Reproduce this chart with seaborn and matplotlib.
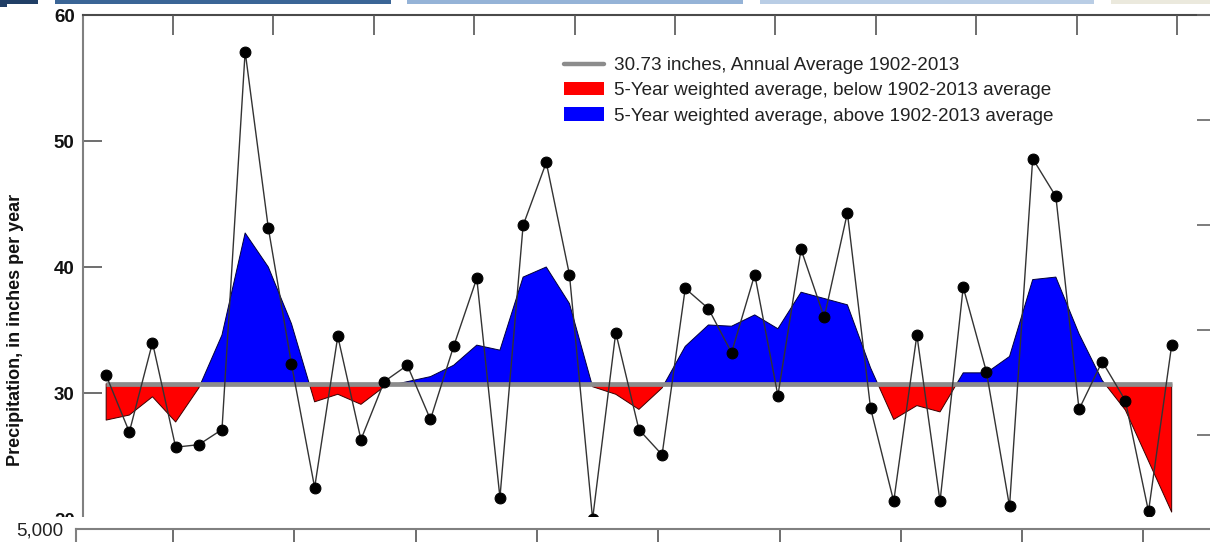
import numpy as np
import pandas as pd
import matplotlib
matplotlib.use('Agg')
import matplotlib.pyplot as plt
import seaborn as sns
from matplotlib.lines import Line2D
from matplotlib.patches import Patch, Rectangle

# ---------------- data ----------------
years = list(range(1967, 2014))
precip = [31.4, 26.9, 34.0, 25.7, 25.9, 27.1, 57.1, 43.1, 32.3, 22.5,
          34.5, 26.3, 30.9, 32.2, 27.9, 33.7, 39.1, 21.7, 43.3, 48.3,
          39.4, 20.0, 34.8, 27.1, 25.1, 38.3, 36.7, 33.2, 39.4, 29.8,
          41.4, 36.0, 44.3, 28.8, 21.4, 34.6, 21.4, 38.4, 31.7, 21.0,
          48.6, 45.6, 28.7, 32.5, 29.4, 20.6, 33.8]
weighted = [27.85, 28.25, 29.7, 27.7, 30.4, 34.6, 42.7, 40.0, 35.5, 29.3,
            29.9, 29.1, 30.5, 30.9, 31.3, 32.2, 33.8, 33.4, 39.2, 40.0,
            37.1, 30.5, 29.9, 28.7, 30.4, 33.7, 35.4, 35.3, 36.2, 35.1,
            38.0, 37.5, 37.0, 32.0, 27.9, 29.0, 28.5, 31.6, 31.6, 32.9,
            39.0, 39.2, 34.7, 31.0, 28.65, 24.6, 20.55]
avg_value = 30.73
y_ticks = [10, 20, 30, 40, 50, 60]
legend_labels = ["30.73 inches, Annual Average 1902-2013",
                 "5-Year weighted average, below 1902-2013 average",
                 "5-Year weighted average, above 1902-2013 average"]
y_label = "Precipitation, in inches per year"
lower_tick_label = "5,000"

df = pd.DataFrame({"year": years, "precip": precip, "weighted": weighted})

# ---------------- style ----------------
sns.set_style("white")
plt.rcParams['font.family'] = ['Liberation Sans', 'DejaVu Sans']

W, H = 1210, 542
fig = plt.figure(figsize=(W / 100, H / 100), dpi=100)
fig.patch.set_facecolor('white')


def fx(px):
    return px / W


def fy(py):
    return 1 - py / H


# main axes (extends beyond the figure, as in the cropped screenshot)
ax = fig.add_axes([fx(83), fy(645), (1218 - 83) / W, (645 - 15) / H])
ax.set_xlim(1966, 2015)
ax.set_ylim(10, 60)

w = np.array(weighted)
ax.fill_between(df["year"], df["weighted"], avg_value, where=w <= avg_value,
                interpolate=True, facecolor='#ff0000', edgecolor='#3a0000',
                linewidth=0.7, zorder=2)
ax.fill_between(df["year"], df["weighted"], avg_value, where=w >= avg_value,
                interpolate=True, facecolor='#0000ff', edgecolor='#00003a',
                linewidth=0.7, zorder=2)
ax.plot([years[0], years[-1]], [avg_value, avg_value], color='#8c8c8c',
        lw=3.4, zorder=3, solid_capstyle='butt')
sns.lineplot(data=df, x="year", y="precip", ax=ax, color='#333333', lw=1.0,
             marker='o', markersize=7.8, markerfacecolor='black',
             markeredgecolor='black', zorder=4, legend=False)

ax.set_xlabel("")
ax.set_ylabel(y_label, fontsize=13, fontweight='bold', color='#111111')
ax.yaxis.set_label_coords((24 - 83) / (1218 - 83), 0.5)
ax.set_yticks(y_ticks)
ax.set_yticklabels([str(v) for v in y_ticks], fontweight='bold')
ax.tick_params(axis='y', direction='in', length=13.5, width=1.2,
               color='#555555', pad=6, labelsize=13.5, labelcolor='#111111')
ax.tick_params(axis='x', bottom=False, labelbottom=False)
for s in ['left', 'top', 'right', 'bottom']:
    ax.spines[s].set_linewidth(1.5)
ax.spines['left'].set_color('#808080')
ax.spines['top'].set_color('#4a4a4a')
ax.spines['right'].set_color('#808080')

# top tick marks
ax_top = ax.twiny()
ax_top.set_xlim((83 - 173) / 100.4, (1218 - 173) / 100.4)
ax_top.set_xticks(range(11))
ax_top.tick_params(axis='x', direction='in', length=14.4, width=1.2,
                   color='#555555', labeltop=False)
for s in ax_top.spines.values():
    s.set_visible(False)

# right tick marks
ax_right = ax.twinx()
ax_right.set_ylim(-5, 1)
ax_right.set_yticks(range(-4, 2))
ax_right.tick_params(axis='y', direction='in', length=15, width=1.2,
                     color='#666666', labelright=False)
for s in ax_right.spines.values():
    s.set_visible(False)

# legend
handles = [Line2D([], [], color='#8c8c8c', lw=3.2),
           Patch(facecolor='#ff0000', edgecolor='none'),
           Patch(facecolor='#0000ff', edgecolor='none')]
fig.legend(handles, legend_labels, loc='upper left',
           bbox_to_anchor=(fx(564), fy(57)), frameon=False, fontsize=13.6,
           handlelength=2.12, handletextpad=0.53, labelspacing=0.42,
           borderpad=0, borderaxespad=0, labelcolor='#222222')

# slide header bars
header = [(0, 38, 4, '#213f66'), (0, 7, 7, '#213f66'), (55, 391, 4, '#3a6596'),
          (407, 743, 4, '#95b3d7'), (760, 1094, 4, '#b9cde5'),
          (1111, 1210, 4, '#ebe9dd')]
for x0, x1, h, c in header:
    fig.add_artist(Rectangle((fx(x0), fy(h)), (x1 - x0) / W, h / H,
                             transform=fig.transFigure, facecolor=c,
                             edgecolor='none', zorder=12))

# white cover for the lower panel
fig.add_artist(Rectangle((0, 0), 1, fy(517), transform=fig.transFigure,
                         facecolor='white', edgecolor='none', zorder=10))

# lower panel (only its top edge is visible)
ax_b = fig.add_axes([fx(76), fy(729), (1218 - 76) / W, 200 / H])
ax_b.set_zorder(11)
ax_b.patch.set_facecolor('white')
ax_b.set_ylim(0, 5000)
ax_b.set_yticks([5000])
ax_b.set_yticklabels([lower_tick_label])
ax_b.tick_params(axis='y', direction='in', length=13.5, width=1.2,
                 color='#555555', pad=9, labelsize=13.5, labelcolor='#222222')
ax_b.xaxis.tick_top()
ax_b.set_xlim((76 - 173) / 121.3, (1218 - 173) / 121.3)
ax_b.set_xticks(range(9))
ax_b.tick_params(axis='x', direction='in', length=14.4, width=1.2,
                 color='#555555', labeltop=False, labelbottom=False)
ax_b.spines['right'].set_visible(False)
ax_b.spines['bottom'].set_visible(False)
ax_b.spines['top'].set_color('#808080')
ax_b.spines['left'].set_color('#808080')
ax_b.spines['top'].set_linewidth(1.5)
ax_b.spines['left'].set_linewidth(1.5)

fig.savefig('out.png', dpi=100)
